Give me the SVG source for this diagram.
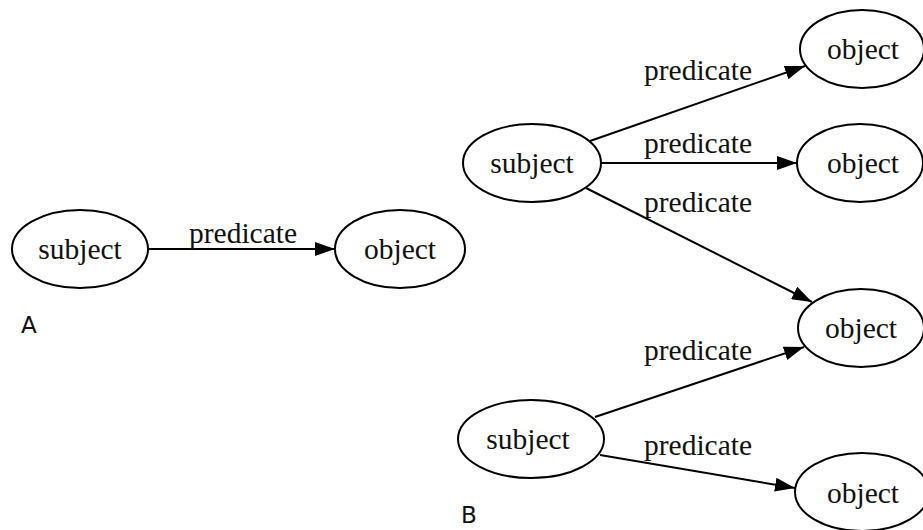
<svg xmlns="http://www.w3.org/2000/svg" width="923" height="530" viewBox="0 0 923 530">
<style>
.node ellipse{fill:#fff;stroke:#000;stroke-width:2}
.node text{font-family:"Liberation Serif","Times New Roman",serif;font-size:29.5px;text-anchor:middle;fill:#111}
.edge line{stroke:#000;stroke-width:2}
.lbl{font-family:"Liberation Serif","Times New Roman",serif;font-size:29.5px;fill:#111}
.panel{font-family:"DejaVu Sans","Liberation Sans",sans-serif;font-size:23px;fill:#111}
</style>
<defs>
<marker id="arr" markerUnits="userSpaceOnUse" markerWidth="20" markerHeight="14" refX="20" refY="7" orient="auto">
<path d="M0,0 L20,7 L0,14 z" fill="#000"/>
</marker>
</defs>
<rect width="923" height="530" fill="#fff"/>
<g id="connectors" class="edge">
<line x1="148" y1="249" x2="335" y2="249" marker-end="url(#arr)"/>
<line x1="590" y1="141" x2="805" y2="66" marker-end="url(#arr)"/>
<line x1="602" y1="163" x2="797" y2="163" marker-end="url(#arr)"/>
<line x1="586" y1="188" x2="812" y2="302" marker-end="url(#arr)"/>
<line x1="595" y1="417" x2="804" y2="347" marker-end="url(#arr)"/>
<line x1="600" y1="455" x2="795" y2="488" marker-end="url(#arr)"/>
</g>
<g id="edge-labels">
<text class="lbl" x="189" y="243">predicate</text>
<text class="lbl" x="644" y="80">predicate</text>
<text class="lbl" x="644" y="153">predicate</text>
<text class="lbl" x="644" y="212">predicate</text>
<text class="lbl" x="644" y="360">predicate</text>
<text class="lbl" x="644" y="455">predicate</text>
</g>
<g id="a-subject" class="node"><ellipse cx="80" cy="249" rx="68" ry="39"/><text x="80" y="259">subject</text></g>
<g id="a-object" class="node"><ellipse cx="400" cy="249" rx="65" ry="39"/><text x="400" y="259">object</text></g>
<g id="b-subject1" class="node"><ellipse cx="532" cy="163" rx="69" ry="39"/><text x="532" y="173">subject</text></g>
<g id="b-object1" class="node"><ellipse cx="862" cy="49" rx="62" ry="39"/><text x="863" y="59">object</text></g>
<g id="b-object2" class="node"><ellipse cx="860" cy="163" rx="63" ry="39"/><text x="863" y="173">object</text></g>
<g id="b-object3" class="node"><ellipse cx="861" cy="328" rx="63" ry="39"/><text x="861" y="338">object</text></g>
<g id="b-subject2" class="node"><ellipse cx="531" cy="439" rx="73" ry="39"/><text x="528" y="449">subject</text></g>
<g id="b-object4" class="node"><ellipse cx="862" cy="492" rx="67" ry="39"/><text x="863" y="503">object</text></g>
<text class="panel" x="21" y="333">A</text>
<text class="panel" x="461" y="523">B</text>
</svg>
